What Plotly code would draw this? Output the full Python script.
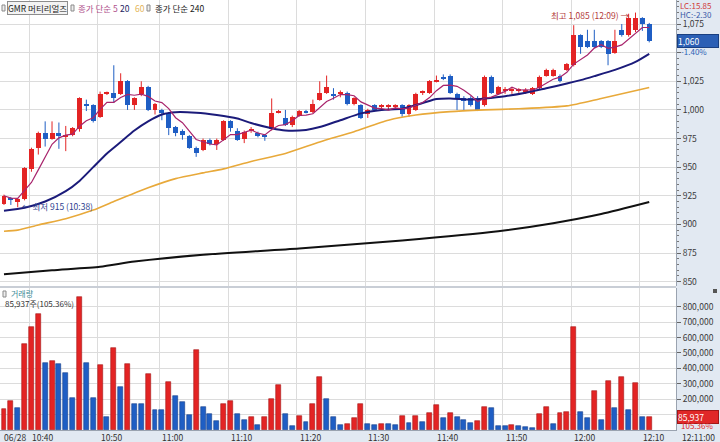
import plotly.graph_objects as go
import pandas as pd

stock_name = "GMR 머티리얼즈"
session_date = "06/28"
lc_text = "LC:15.85"
hc_text = "HC:-2.30"
day_change = "-1.40%"

times = ["10:36", "10:37", "10:38", "10:39", "10:40", "10:41", "10:42", "10:43", "10:44", "10:45",
         "10:46", "10:47", "10:48", "10:49", "10:50", "10:51", "10:52", "10:53", "10:54", "10:56",
         "10:57", "10:58", "10:59", "11:00", "11:01", "11:02", "11:03", "11:04", "11:05", "11:06",
         "11:07", "11:08", "11:09", "11:10", "11:11", "11:12", "11:13", "11:14", "11:15", "11:16",
         "11:17", "11:18", "11:19", "11:20", "11:21", "11:22", "11:23", "11:24", "11:25", "11:26",
         "11:27", "11:28", "11:29", "11:30", "11:31", "11:32", "11:33", "11:34", "11:35", "11:36",
         "11:37", "11:38", "11:39", "11:40", "11:41", "11:42", "11:43", "11:44", "11:45", "11:46",
         "11:47", "11:48", "11:49", "11:50", "11:51", "11:52", "11:53", "11:54", "11:55", "11:56",
         "11:57", "11:58", "11:59", "12:00", "12:01", "12:02", "12:03", "12:04", "12:05", "12:06",
         "12:07", "12:08", "12:09", "12:10", "12:11"]

opens = [918, 923, 920, 922, 948, 967, 980, 975, 980, 976,
         978, 983, 1005, 1004, 994, 1014, 1015, 1014, 1025, 1004,
         1014, 1020, 1000, 1000, 997, 985, 982, 977, 967, 965,
         974, 970, 974, 990, 982, 975, 982, 980, 978, 983,
         998, 993, 987, 995, 999, 998, 1009, 1015, 1014, 1014,
         1015, 1005, 1004, 996, 1004, 1003, 1003, 1003, 1004, 996,
         1000, 1015, 1015, 1025, 1028, 1030, 1014, 1010, 1010, 1010,
         1004, 1029, 1014, 1017, 1017, 1017, 1016, 1014, 1019, 1030,
         1030, 1030, 1035, 1039, 1065, 1060, 1060, 1060, 1060, 1050,
         1070, 1065, 1070, 1080, 1075]

highs = [926, 924, 923, 950, 967, 981, 990, 990, 989, 986,
         985, 1011, 1009, 1005, 1016, 1016, 1039, 1032, 1026, 1011,
         1025, 1021, 1006, 1001, 998, 986, 983, 978, 968, 975,
         975, 975, 991, 991, 984, 982, 985, 981, 979, 1010,
         1000, 1000, 995, 1000, 1000, 1009, 1025, 1030, 1019, 1017,
         1016, 1011, 1005, 1001, 1005, 1005, 1005, 1005, 1005, 1005,
         1015, 1017, 1026, 1030, 1031, 1031, 1015, 1012, 1012, 1012,
         1030, 1030, 1021, 1020, 1020, 1019, 1019, 1020, 1030, 1036,
         1036, 1031, 1041, 1074, 1066, 1070, 1070, 1061, 1061, 1070,
         1075, 1084, 1085, 1081, 1076]

lows = [917, 917, 915, 921, 946, 961, 968, 974, 966, 964,
        977, 981, 999, 989, 993, 1013, 1006, 1013, 1000, 1000,
        1012, 999, 996, 991, 978, 977, 974, 966, 959, 964,
        969, 965, 973, 981, 973, 971, 980, 976, 973, 982,
        997, 986, 985, 994, 997, 997, 1008, 1014, 1009, 1011,
        1004, 1004, 992, 993, 999, 1000, 1000, 1000, 994, 994,
        999, 1013, 1014, 1024, 1026, 1014, 1000, 1000, 1003, 999,
        1003, 1014, 1013, 1014, 1014, 1015, 1014, 1013, 1018, 1029,
        1029, 1024, 1034, 1038, 1049, 1054, 1054, 1054, 1039, 1049,
        1064, 1064, 1068, 1069, 1059]

closes = [925, 921, 922, 949, 966, 980, 975, 980, 977, 978,
          984, 1010, 1004, 990, 1014, 1015, 1010, 1025, 1004, 1010,
          1020, 1000, 1005, 997, 984, 980, 978, 967, 962, 974,
          970, 974, 990, 984, 974, 981, 983, 977, 976, 997,
          999, 987, 994, 999, 998, 1005, 1015, 1020, 1013, 1014,
          1005, 1010, 993, 1000, 1000, 1003, 1003, 1003, 996, 1004,
          1014, 1015, 1025, 1026, 1027, 1015, 1010, 1008, 1004, 1000,
          1029, 1015, 1020, 1017, 1018, 1017, 1016, 1019, 1029, 1035,
          1035, 1025, 1040, 1065, 1055, 1055, 1055, 1055, 1049, 1060,
          1065, 1080, 1080, 1075, 1060]

volumes = [134000, 188000, 144000, 556000, 670000, 750000, 432000, 447000, 426000, 367000,
           205000, 865000, 432000, 205000, 421000, 82000, 530000, 281000, 428000, 172000,
           168000, 361000, 130000, 128000, 313000, 220000, 181000, 97000, 519000, 147000,
           103000, 60000, 172000, 188000, 102000, 64000, 82000, 32000, 82000, 199000,
           292000, 103000, 25000, 90000, 53000, 166000, 345000, 203000, 82000, 32000,
           38000, 75000, 166000, 36000, 32000, 38000, 36000, 32000, 92000, 43000,
           92000, 53000, 112000, 162000, 79000, 112000, 82000, 62000, 45000, 58000,
           147000, 146000, 25000, 24000, 30000, 25000, 22000, 15000, 103000, 149000,
           38000, 112000, 114000, 670000, 114000, 79000, 253000, 62000, 318000, 140000,
           341000, 129000, 307000, 81566, 85937]

# moving averages (bar index, value)
ma20_x = [0, 3, 6, 9, 11, 13, 15, 17, 19, 21, 23, 25, 28, 31, 34, 36, 39, 41, 44, 46,
          49, 52, 55, 58, 61, 63, 65, 68, 70, 73, 76, 79, 82, 84, 86, 89, 92, 94]
ma20_v = [912, 914.5, 920, 929, 938, 950, 962, 972, 982, 990, 996, 998, 997.5, 995.5, 992.5,
          988.5, 984, 982, 982.5, 985, 991, 997, 1000, 1001, 1006, 1009.5, 1010, 1009, 1010,
          1012, 1015, 1019, 1023, 1026, 1029.5, 1035, 1042, 1049]
ma60_x = [0, 2, 5, 9, 13, 16, 21, 25, 29, 32, 36, 41, 46, 51, 56, 60, 65, 70, 75, 82, 87, 94]
ma60_v = [894, 895, 899.5, 905, 912.5, 920, 932, 940, 945, 948.5, 955, 962, 972, 981, 991,
          995.5, 998.5, 1000, 1001, 1003.5, 1010, 1019.5]
ma240_x = [0, 7, 14, 19, 29, 43, 58, 72, 80, 87, 94]
ma240_v = [856.5, 860, 863, 867.5, 873.5, 879, 886, 894, 901, 909, 919.5]

price_ticks = [850, 875, 900, 925, 950, 975, 1000, 1025, 1050, 1075]
volume_ticks = [100000, 200000, 300000, 400000, 500000, 600000, 700000, 800000]

RED = "#e32424"
BLUE = "#1f5ec4"
FONT = "Noto Sans CJK KR"

x = list(range(len(times)))
is_up = [c >= o for o, c in zip(opens, closes)]

fig = go.Figure()

# candles: wicks + bodies
for flag, col in ((True, RED), (False, BLUE)):
    idx = [i for i in x if is_up[i] == flag]
    wx, wy = [], []
    for i in idx:
        wx += [i, i, None]
        wy += [lows[i], highs[i], None]
    fig.add_trace(go.Scatter(x=wx, y=wy, mode="lines", line=dict(color=col, width=1),
                             hoverinfo="skip", yaxis="y"))
    fig.add_trace(go.Bar(x=idx, base=[min(opens[i], closes[i]) for i in idx],
                         y=[max(abs(closes[i] - opens[i]), 0.9) for i in idx],
                         width=0.72, marker=dict(color=col, line=dict(width=0)), yaxis="y"))

# moving averages
ma5 = pd.Series(closes).rolling(5, min_periods=1).mean()
fig.add_trace(go.Scatter(x=ma240_x, y=ma240_v, mode="lines", yaxis="y",
                         line=dict(color="#111111", width=2, shape="spline", smoothing=0.6)))
fig.add_trace(go.Scatter(x=ma60_x, y=ma60_v, mode="lines", yaxis="y",
                         line=dict(color="#e8a93a", width=1.6, shape="spline", smoothing=0.6)))
fig.add_trace(go.Scatter(x=ma20_x, y=ma20_v, mode="lines", yaxis="y",
                         line=dict(color="#1b1b7a", width=2, shape="spline", smoothing=0.6)))
fig.add_trace(go.Scatter(x=x, y=ma5, mode="lines", yaxis="y",
                         line=dict(color="#a8246c", width=1.2)))

# volume
vol_up = [True] + [volumes[i] > volumes[i - 1] for i in range(1, len(volumes))]
fig.add_trace(go.Bar(x=x, y=volumes, width=0.72, yaxis="y2",
                     marker=dict(color=[RED if u else BLUE for u in vol_up],
                                 line=dict(color=["#a41818" if u else "#173f8a" for u in vol_up],
                                           width=0.6))))

PW, PH = 676, 430


def px(v):
    return v / PW


def py(v):
    return 1 - v / PH


grid_idx = [i for i, t in enumerate(times) if t.endswith("0")]
grid_x = [i - 0.35 for i in grid_idx]

ann = []
small = dict(family=FONT, size=8.5, color="#333333")

# header legend
ann.append(dict(xref="paper", yref="paper", x=px(7), y=py(8), xanchor="left", yanchor="middle",
                text=stock_name, showarrow=False, font=dict(family=FONT, size=8.5, color="#222"),
                bordercolor="#8c8c8c", borderwidth=1, borderpad=0, bgcolor="#f3f3f3"))
for xpos, txt, col in ((76, "종가 단순 5", "#b0508c"), (118, "20", "#22225e"),
                       (133, "60", "#e3b458"), (153, "종가 단순 240", "#1a1a1a")):
    ann.append(dict(xref="paper", yref="paper", x=px(xpos), y=py(8), xanchor="left",
                    yanchor="middle", text=txt, showarrow=False,
                    font=dict(family=FONT, size=8.5, color=col)))

# volume header
ann.append(dict(xref="paper", yref="paper", x=px(9), y=py(293.5), xanchor="left", yanchor="middle",
                text="거래량", showarrow=False, font=dict(family=FONT, size=8, color="#3a8c98")))
ann.append(dict(xref="paper", yref="paper", x=px(3), y=py(303.5), xanchor="left", yanchor="middle",
                text=f"{volumes[-1]:,}주({volumes[-1] / volumes[-2] * 100:.2f}%)", showarrow=False,
                font=dict(family=FONT, size=8, color="#333")))

# high / low markers
ih = max(x, key=lambda i: highs[i])
il = min(x, key=lambda i: lows[i])
ann.append(dict(x=ih - 0.45, y=highs[ih], xref="x", yref="y", xanchor="right", yanchor="middle",
                yshift=-2, showarrow=False, text=f"최고 {highs[ih]:,} ({times[ih]}) →",
                font=dict(family=FONT, size=8.5, color="#b33a3a")))
ann.append(dict(x=il + 0.3, y=lows[il], xref="x", yref="y", xanchor="left", yanchor="middle",
                yshift=1, showarrow=False, text=f"← 최저 {lows[il]:,} ({times[il]})",
                font=dict(family=FONT, size=8.5, color="#30418f")))

# right panel labels
ann.append(dict(xref="paper", yref="paper", x=1, xshift=2, y=py(5.5), xanchor="left", yanchor="middle",
                text=lc_text, showarrow=False, font=dict(family=FONT, size=8, color="#d03a3a")))
ann.append(dict(xref="paper", yref="paper", x=1, xshift=2, y=py(14), xanchor="left", yanchor="middle",
                text=hc_text, showarrow=False, font=dict(family=FONT, size=8, color="#3a5aa8")))
ann.append(dict(xref="paper", yref="y", x=1, xshift=1, y=closes[-1], xanchor="left", yanchor="middle",
                text=f"{closes[-1]:,}", showarrow=False, bgcolor="#2b5fb5", bordercolor="#1a3f80",
                borderwidth=1, borderpad=0, width=40, align="left",
                font=dict(family=FONT, size=8.5, color="white")))
ann.append(dict(xref="paper", yref="y", x=1, xshift=3, y=closes[-1], yshift=-10, xanchor="left",
                yanchor="middle", text=day_change, showarrow=False,
                font=dict(family=FONT, size=8, color="#2b5fb5")))
ann.append(dict(xref="paper", yref="y2", x=1, xshift=1, y=volumes[-1], xanchor="left", yanchor="middle",
                text=f"{volumes[-1]:,}", showarrow=False, bgcolor="#e02828", bordercolor="#a01818",
                borderwidth=1, borderpad=0, width=40, align="left",
                font=dict(family=FONT, size=8.5, color="white")))
ann.append(dict(xref="paper", yref="y2", x=1, xshift=3, y=volumes[-1], yshift=-9, xanchor="left",
                yanchor="middle", text=f"{volumes[-1] / volumes[-2] * 100:.2f}%", showarrow=False,
                font=dict(family=FONT, size=8, color="#e02828")))

# time labels
ann.append(dict(xref="paper", yref="paper", x=0, xshift=2, y=py(436.5), xanchor="left", yanchor="middle",
                text=session_date, showarrow=False, font=small))
for gi, i in zip(grid_x, grid_idx):
    ann.append(dict(xref="x", yref="paper", x=gi, xshift=1, y=py(436.5), xanchor="left",
                    yanchor="middle", text=times[i], showarrow=False, font=small))
ann.append(dict(xref="paper", yref="paper", x=1, xshift=4, y=py(436.5), xanchor="left",
                yanchor="middle", text=times[-1] + ":00", showarrow=False, font=small))

shapes = [
    dict(type="rect", xref="paper", yref="paper", x0=0, x1=1, y0=py(288), y1=py(286),
         fillcolor="#c9ced6", line=dict(width=0)),
]
for xpos, ypos in ((2, 8), (71, 8), (147, 8), (3, 294)):
    shapes.append(dict(type="rect", xref="paper", yref="paper", x0=px(xpos), x1=px(xpos + 3),
                       y0=py(ypos + 3), y1=py(ypos - 3), line=dict(color="#8a8a8a", width=1),
                       fillcolor="#eeeeee"))
shapes.append(dict(type="rect", xref="paper", yref="paper", x0=px(713), x1=px(717),
                   y0=py(293), y1=py(289), line=dict(width=0), fillcolor="#555"))

fig.update_layout(
    width=720, height=442,
    margin=dict(l=0, r=44, t=0, b=12),
    paper_bgcolor="#e2e9f2", plot_bgcolor="white",
    barmode="overlay", showlegend=False, bargap=0,
    font=dict(family=FONT, size=9, color="#333"),
    xaxis=dict(range=[-0.58, 97.9], tickmode="array", tickvals=grid_x, showticklabels=False,
               showgrid=True, gridcolor="#dcdcdc", gridwidth=1, zeroline=False, anchor="y2",
               showline=True, linecolor="#9aa3b0", ticks="", automargin=False),
    yaxis=dict(domain=[py(286), 1], range=[846.2, 1096], side="right", tickmode="array",
               tickvals=price_ticks, automargin=False,
               ticktext=[("" if abs(v - closes[-1]) < 12 else f"{v:,}") for v in price_ticks],
               showgrid=True, gridcolor="#dcdcdc", zeroline=False, ticks="outside", ticklen=4,
               tickcolor="#666", showline=True, linecolor="#9aa3b0",
               tickfont=dict(family=FONT, size=8.5, color="#3a3a3a"),
               minor=dict(tickmode="linear", tick0=850, dtick=5, ticks="outside", ticklen=2,
                          tickcolor="#777", showgrid=False)),
    yaxis2=dict(domain=[0, py(288)], range=[0, 922000], side="right", tickmode="array",
                tickvals=volume_ticks, automargin=False,
                ticktext=[("" if abs(v - volumes[-1]) < 40000 else f"{v:,}") for v in volume_ticks],
                showgrid=True, gridcolor="#dcdcdc", zeroline=False, ticks="outside", ticklen=4,
                tickcolor="#666", showline=True, linecolor="#9aa3b0",
                tickfont=dict(family=FONT, size=8.5, color="#3a3a3a")),
    annotations=ann,
    shapes=shapes,
)

fig.write_html("out.html", config={"displayModeBar": False},
               post_script="document.body.style.margin='0';document.body.style.overflow='hidden';")
